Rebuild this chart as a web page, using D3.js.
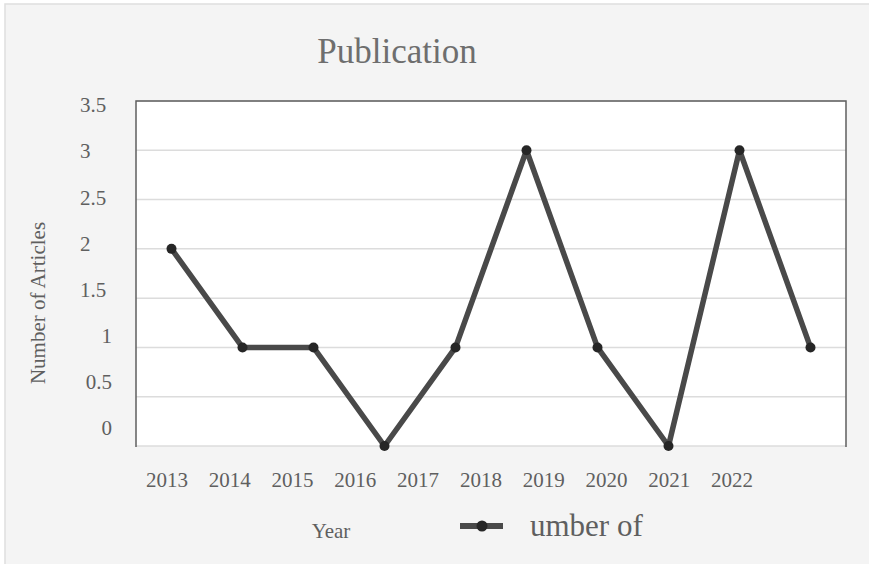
<!DOCTYPE html>
<html>
<head>
<meta charset="utf-8">
<script src="https://cdn.jsdelivr.net/npm/d3@7"></script>
<style>
  body { margin: 0; background: #fff; }
  text { font-family: "Liberation Serif", "Times New Roman", serif; }
</style>
</head>
<body>
<div id="chart"></div>
<script>
//Data
var years = ["2013", "2014", "2015", "2016", "2017", "2018", "2019", "2020", "2021", "2022"];
var articles = [2, 1, 1, 0, 1, 3, 1, 0, 3, 1];
var yTicks = [0, 0.5, 1, 1.5, 2, 2.5, 3, 3.5];

var W = 869, H = 564;
var plot = { left: 136, right: 846, top: 101, bottom: 446 };

var svg = d3.select("#chart").append("svg")
	.attr("width", W)
	.attr("height", H);

//Chart area background (runs off the right and bottom edge)
svg.append("rect")
	.attr("x", 5).attr("y", 4)
	.attr("width", W + 20).attr("height", H + 20)
	.style("fill", "#f4f4f4")
	.style("stroke", "#dedede")
	.style("stroke-width", 1.5);

//Scales
var x = d3.scaleBand()
	.domain(years)
	.range([plot.left, plot.right]);

var y = d3.scaleLinear()
	.domain([0, 3.5])
	.range([plot.bottom, plot.top]);

//The category labels in the picture do not sit under the points
var xLabel = d3.scalePoint()
	.domain(years)
	.range([167, 732]);

//Same for the value labels, which are squeezed a bit
var yLabel = d3.scaleLinear()
	.domain([0, 3.5])
	.range([428, 105]);

//Plot area
svg.append("rect")
	.attr("x", plot.left).attr("y", plot.top)
	.attr("width", plot.right - plot.left)
	.attr("height", plot.bottom - plot.top)
	.style("fill", "#ffffff");

//Gridlines
svg.append("g").selectAll("line")
	.data(yTicks)
	.enter().append("line")
	.attr("x1", plot.left).attr("x2", plot.right)
	.attr("y1", function(d) { return y(d); })
	.attr("y2", function(d) { return y(d); })
	.style("stroke", "#dcdcdc")
	.style("stroke-width", 1.5);

//Dark frame on left, top, right
svg.append("path")
	.attr("d", "M" + plot.left + "," + (plot.bottom + 1) + "V" + plot.top + "H" + plot.right + "V" + (plot.bottom + 1))
	.style("fill", "none")
	.style("stroke", "#5f5f5f")
	.style("stroke-width", 1.5);

//Y tick labels
svg.append("g").selectAll("text")
	.data(yTicks)
	.enter().append("text")
	.attr("x", function(d) { return d >= 1.5 ? 80 : 112; })
	.attr("y", function(d) { return yLabel(d); })
	.attr("dy", "0.35em")
	.attr("text-anchor", function(d) { return d >= 1.5 ? "start" : "end"; })
	.style("font-size", "21px")
	.style("fill", "#5f5f5f")
	.text(function(d) { return d; });

//X tick labels
svg.append("g").selectAll("text")
	.data(years)
	.enter().append("text")
	.attr("x", function(d) { return xLabel(d); })
	.attr("y", 487)
	.attr("text-anchor", "middle")
	.style("font-size", "21px")
	.style("fill", "#5f5f5f")
	.text(function(d) { return d; });

//Line and markers
var line = d3.line()
	.x(function(d, i) { return x(years[i]) + x.bandwidth() / 2; })
	.y(function(d) { return y(d); });

svg.append("path")
	.datum(articles)
	.attr("d", line)
	.style("fill", "none")
	.style("stroke", "#494949")
	.style("stroke-width", 5.5)
	.style("stroke-linejoin", "round");

svg.append("g").selectAll("circle")
	.data(articles)
	.enter().append("circle")
	.attr("cx", function(d, i) { return x(years[i]) + x.bandwidth() / 2; })
	.attr("cy", function(d) { return y(d); })
	.attr("r", 5)
	.style("fill", "#262626");

//Titles
svg.append("text")
	.attr("x", 397).attr("y", 63)
	.attr("text-anchor", "middle")
	.style("font-size", "35px")
	.style("fill", "#6e6e6e")
	.text("Publication");

svg.append("text")
	.attr("transform", "translate(45,303) rotate(-90)")
	.attr("text-anchor", "middle")
	.style("font-size", "21px")
	.style("fill", "#5f5f5f")
	.text("Number of Articles");

svg.append("text")
	.attr("x", 331).attr("y", 538)
	.attr("text-anchor", "middle")
	.style("font-size", "21px")
	.style("fill", "#5f5f5f")
	.text("Year");

//Legend
var legend = svg.append("g");
legend.append("line")
	.attr("x1", 460).attr("x2", 503)
	.attr("y1", 526).attr("y2", 526)
	.style("stroke", "#494949")
	.style("stroke-width", 6);
legend.append("circle")
	.attr("cx", 482).attr("cy", 526)
	.attr("r", 5.5)
	.style("fill", "#262626");
legend.append("text")
	.attr("x", 530).attr("y", 536)
	.style("font-size", "31px")
	.style("fill", "#5f5f5f")
	.text("umber of");
</script>
</body>
</html>
